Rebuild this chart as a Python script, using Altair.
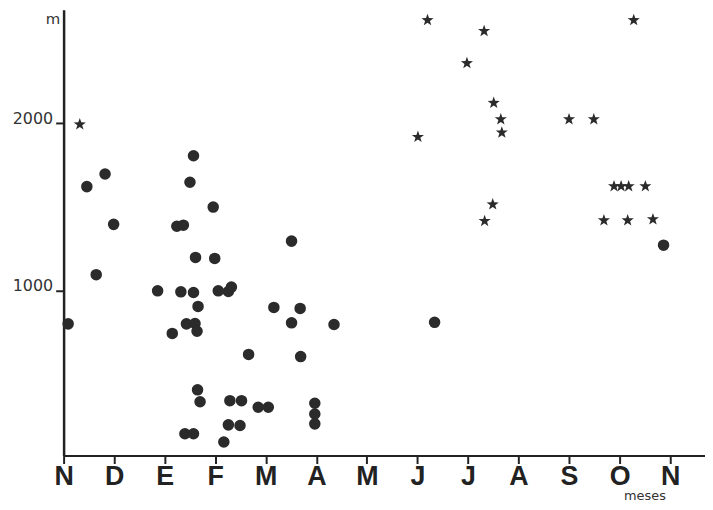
import json
import altair as alt
import pandas as pd

# Month labels along the x axis (Nov -> Nov)
meses = ["N", "D", "E", "F", "M", "A", "M", "J", "J", "A", "S", "O", "N"]

# Circles: month position (0 = N) and altitude (m)
circ_mes = [0.09, 0.46, 0.82, 0.645, 0.99, 2.24, 2.37, 2.96, 2.57, 2.50,
            2.61, 2.99, 1.86, 2.32, 2.57, 3.06, 3.26, 3.32, 2.66, 2.43,
            2.60, 2.64, 2.15, 2.65, 2.70, 2.40, 2.57, 3.29, 3.52, 3.26,
            3.49, 3.17, 3.66, 4.51, 4.16, 4.68, 4.51, 5.35, 4.69, 3.85,
            4.05, 4.97, 4.97, 4.97, 7.34, 11.87]
circ_alt = [803, 1621, 1696, 1096, 1396, 1385, 1391, 1499, 1805, 1647,
            1199, 1193, 1000, 994, 990, 1000, 996, 1022, 907, 803,
            805, 759, 746, 410, 339, 148, 148, 345, 345, 201,
            197, 99, 621, 1296, 901, 895, 809, 799, 608, 306,
            306, 330, 266, 207, 812, 1272]

# Stars: month position and altitude (m)
star_mes = [0.32, 7.20, 8.32, 7.98, 8.51, 8.65, 8.67, 7.01, 10.0, 10.49,
            11.28, 8.49, 8.33, 10.89, 11.03, 11.18, 11.51, 10.69, 11.16, 11.66]
star_alt = [1992, 2613, 2548, 2357, 2120, 2022, 1943, 1917, 2022, 2022,
            2613, 1515, 1416, 1623, 1623, 1623, 1623, 1420, 1420, 1426]

df = pd.DataFrame({
    "mes": circ_mes + star_mes,
    "altitud": circ_alt + star_alt,
    "tipo": ["circulo"] * len(circ_mes) + ["estrella"] * len(star_mes),
})

STAR = ("M0,-1L0.235,-0.324L0.951,-0.309L0.380,0.124L0.588,0.809L0,0.4"
        "L-0.588,0.809L-0.380,0.124L-0.951,-0.309L-0.235,-0.324Z")

label_expr = json.dumps(meses) + "[datum.value]"

ink = "#2b2b2b"

chart = alt.Chart(df).mark_point(filled=True, opacity=1, color=ink).encode(
    x=alt.X("mes:Q",
            scale=alt.Scale(domain=[0, 12.69], nice=False, zero=False),
            axis=alt.Axis(values=list(range(13)), labelExpr=label_expr,
                          title="meses", grid=False,
                          domainColor="#222", domainWidth=2,
                          tickColor="#222", tickWidth=2, tickSize=8,
                          labelFont="Liberation Sans", labelFontWeight="bold",
                          labelFontSize=27, labelColor="#222", labelPadding=0,
                          labelFlush=False, labelOverlap=False,
                          titleFont="DejaVu Sans", titleFontSize=13,
                          titleFontWeight="normal", titleColor="#333",
                          titleX=585, titleY=44, titleAlign="center",
                          titleBaseline="alphabetic")),
    y=alt.Y("altitud:Q",
            scale=alt.Scale(domain=[18, 2675], nice=False, zero=False),
            axis=alt.Axis(values=[1000, 2000], format="d", title="m",
                          grid=False,
                          domainColor="#222", domainWidth=2.5,
                          tickColor="#222", tickWidth=2, tickSize=8,
                          labelFont="DejaVu Sans", labelFontSize=16,
                          labelColor="#333", labelPadding=3,
                          labelBaseline="alphabetic", labelAlign="right",
                          titleFont="DejaVu Sans", titleFontSize=15,
                          titleFontWeight="normal", titleColor="#333",
                          titleAngle=0, titleX=-4, titleY=14,
                          titleAlign="right", titleBaseline="alphabetic")),
    shape=alt.Shape("tipo:N", legend=None,
                    scale=alt.Scale(domain=["circulo", "estrella"],
                                    range=["circle", STAR])),
    size=alt.Size("tipo:N", legend=None,
                  scale=alt.Scale(domain=["circulo", "estrella"],
                                  range=[135, 165])),
).properties(
    width=646, height=449,
    autosize="none",
    padding={"left": 56, "top": 0, "right": 0, "bottom": 47},
    background="white",
).configure_view(stroke=None)

chart.save("out.html", embed_options={"renderer": "svg", "actions": False})
